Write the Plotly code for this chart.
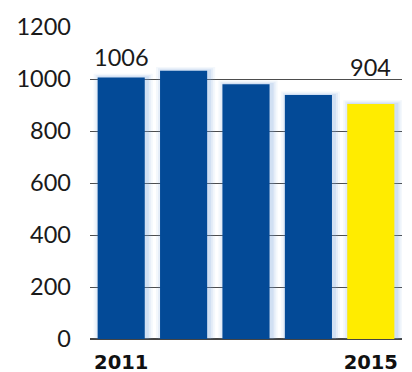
import plotly.graph_objects as go

# Annual figures, 2011-2015
years = ["2011", "2012", "2013", "2014", "2015"]
values = [1006, 1032, 980, 938, 904]
y_ticks = [0, 200, 400, 600, 800, 1000, 1200]
x_tick_labels = {0: "2011", 4: "2015"}
labelled = {0: "1006", 4: "904"}

BLUE = "#034a97"
YELLOW = "#ffec00"
bar_w = 0.755
px_x = 1 / 62.25     # one pixel in category units
px_y = 1 / 0.2597    # one pixel in value units

xs = list(range(len(years)))
colors = [YELLOW if i == len(years) - 1 else BLUE for i in xs]

fig = go.Figure()

# soft glow behind each bar, shifted slightly to the right
for k, alpha in [(6, 0.08), (4, 0.12), (2, 0.18)]:
    fig.add_trace(go.Bar(
        x=xs,
        y=[v + k * px_y * 0.6 for v in values],
        width=bar_w + 2 * k * px_x,
        offset=-bar_w / 2 - k * px_x + 2 * px_x,
        marker=dict(color=f"rgba(120,165,220,{alpha})", line=dict(width=0)),
        hoverinfo="skip",
        showlegend=False,
    ))

fig.add_trace(go.Bar(
    x=xs,
    y=values,
    width=bar_w,
    offset=-bar_w / 2,
    marker=dict(color=colors, line=dict(width=0)),
    showlegend=False,
))

# value labels for first and last year (vertical centre of the text)
label_y = {0: 1085, 4: 1046}
for i, txt in labelled.items():
    fig.add_annotation(
        x=xs[i], y=label_y[i], text=txt, showarrow=False,
        yanchor="middle", xanchor="center",
        font=dict(family="Lato", size=23.5, color="#1a1a1a"),
    )

fig.update_layout(
    width=412, height=372,
    margin=dict(l=90, r=10, t=27, b=33, autoexpand=False),
    paper_bgcolor="white", plot_bgcolor="white",
    barmode="overlay",
    xaxis=dict(
        range=[-0.5, 4.5],
        tickvals=list(x_tick_labels.keys()),
        ticktext=list(x_tick_labels.values()),
        showgrid=False, zeroline=False, showline=False,
        ticks="", ticklabelstandoff=9, automargin=False,
        tickfont=dict(family="DejaVu Sans", size=19.5, color="#111111", weight="bold"),
        fixedrange=True,
    ),
    yaxis=dict(
        range=[0, 1200],
        tickvals=y_ticks,
        showgrid=True, gridcolor="#4d4d4d", gridwidth=1,
        zeroline=True, zerolinecolor="#444444", zerolinewidth=2,
        showline=False, ticks="", ticklabelstandoff=18, automargin=False,
        tickfont=dict(family="Lato", size=23.5, color="#1a1a1a"),
        fixedrange=True,
    ),
)

fig.write_html("out.html")
